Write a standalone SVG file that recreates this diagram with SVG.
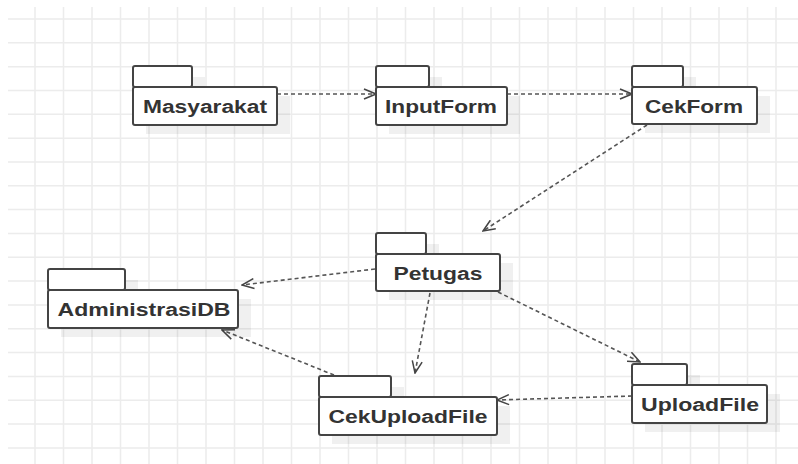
<svg xmlns="http://www.w3.org/2000/svg" width="798" height="464" viewBox="0 0 798 464">
<style>
.grid{stroke:#ececec;stroke-width:1.5;fill:none}
.shadow{fill:#000;fill-opacity:0.06}
.box{fill:#fff;stroke:#444;stroke-width:2}
.lbl{font-family:"Liberation Sans",Arial,sans-serif;font-weight:bold;font-size:18px;fill:#333;text-anchor:middle}
.dep{stroke:#555;stroke-width:1.6;stroke-dasharray:4 3;fill:none;marker-end:url(#open)}
</style>
<defs>
<marker id="open" viewBox="0 0 14 12" refX="13" refY="6" markerWidth="14" markerHeight="12" markerUnits="userSpaceOnUse" orient="auto">
<path d="M1,1 L13,6 L1,11" fill="none" stroke="#444" stroke-width="1.5" stroke-dasharray="none"/>
</marker>
</defs>
<rect width="798" height="464" fill="#fff"/>
<path class="grid" d="M35,7V464M63.5,7V464M92,7V464M120.5,7V464M149,7V464M177.5,7V464M206,7V464M234.5,7V464M263,7V464M291.5,7V464M320,7V464M348.5,7V464M377,7V464M405.5,7V464M434,7V464M462.5,7V464M491,7V464M519.5,7V464M548,7V464M576.5,7V464M605,7V464M633.5,7V464M662,7V464M690.5,7V464M719,7V464M747.5,7V464M776,7V464M8,19H798M8,42.8H798M8,66.7H798M8,90.5H798M8,114.3H798M8,138.2H798M8,162H798M8,185.8H798M8,209.6H798M8,233.5H798M8,257.3H798M8,281.1H798M8,305H798M8,328.8H798M8,352.6H798M8,376.5H798M8,400.3H798M8,424.1H798M8,448H798"/>
<g id="connectors">
<line class="dep" x1="277" y1="94" x2="376" y2="94"/>
<line class="dep" x1="507" y1="94" x2="632" y2="94"/>
<line class="dep" x1="647" y1="125" x2="483" y2="231"/>
<line class="dep" x1="375" y1="269" x2="242" y2="285"/>
<line class="dep" x1="430" y1="293" x2="415" y2="373"/>
<line class="dep" x1="498" y1="292" x2="640" y2="362"/>
<line class="dep" x1="334" y1="375" x2="222" y2="330"/>
<line class="dep" x1="632" y1="396" x2="497" y2="400"/>
</g>
<g id="Masyarakat">
<rect class="shadow" x="146" y="77" width="59" height="21"/>
<rect class="shadow" x="146" y="96" width="144" height="38"/>
<rect class="box" x="133" y="66" width="59" height="21" rx="2"/>
<rect class="box" x="133" y="87" width="144" height="38" rx="2"/>
<text class="lbl" x="205" y="113" textLength="124" lengthAdjust="spacingAndGlyphs">Masyarakat</text>
</g>
<g id="InputForm">
<rect class="shadow" x="389" y="77" width="53" height="21"/>
<rect class="shadow" x="389" y="96" width="131" height="38"/>
<rect class="box" x="376" y="66" width="53" height="21" rx="2"/>
<rect class="box" x="376" y="87" width="131" height="38" rx="2"/>
<text class="lbl" x="441" y="113" textLength="112" lengthAdjust="spacingAndGlyphs">InputForm</text>
</g>
<g id="CekForm">
<rect class="shadow" x="645" y="77" width="51" height="21"/>
<rect class="shadow" x="645" y="96" width="125" height="37"/>
<rect class="box" x="632" y="66" width="51" height="21" rx="2"/>
<rect class="box" x="632" y="87" width="125" height="37" rx="2"/>
<text class="lbl" x="694" y="113" textLength="98" lengthAdjust="spacingAndGlyphs">CekForm</text>
</g>
<g id="Petugas">
<rect class="shadow" x="389" y="244" width="50" height="21"/>
<rect class="shadow" x="389" y="263" width="124" height="37"/>
<rect class="box" x="376" y="233" width="50" height="21" rx="2"/>
<rect class="box" x="376" y="254" width="124" height="37" rx="2"/>
<text class="lbl" x="438" y="280" textLength="89" lengthAdjust="spacingAndGlyphs">Petugas</text>
</g>
<g id="AdministrasiDB">
<rect class="shadow" x="61" y="280" width="77" height="21"/>
<rect class="shadow" x="61" y="299" width="190" height="38"/>
<rect class="box" x="48" y="269" width="77" height="21" rx="2"/>
<rect class="box" x="48" y="290" width="190" height="38" rx="2"/>
<text class="lbl" x="144" y="316" textLength="173" lengthAdjust="spacingAndGlyphs">AdministrasiDB</text>
</g>
<g id="CekUploadFile">
<rect class="shadow" x="332" y="387" width="72" height="21"/>
<rect class="shadow" x="332" y="406" width="178" height="38"/>
<rect class="box" x="319" y="376" width="72" height="21" rx="2"/>
<rect class="box" x="319" y="397" width="178" height="38" rx="2"/>
<text class="lbl" x="408" y="423" textLength="159" lengthAdjust="spacingAndGlyphs">CekUploadFile</text>
</g>
<g id="UploadFile">
<rect class="shadow" x="645" y="375" width="55" height="21"/>
<rect class="shadow" x="645" y="394" width="135" height="38"/>
<rect class="box" x="632" y="364" width="55" height="21" rx="2"/>
<rect class="box" x="632" y="385" width="135" height="38" rx="2"/>
<text class="lbl" x="700" y="411" textLength="118" lengthAdjust="spacingAndGlyphs">UploadFile</text>
</g>
</svg>
